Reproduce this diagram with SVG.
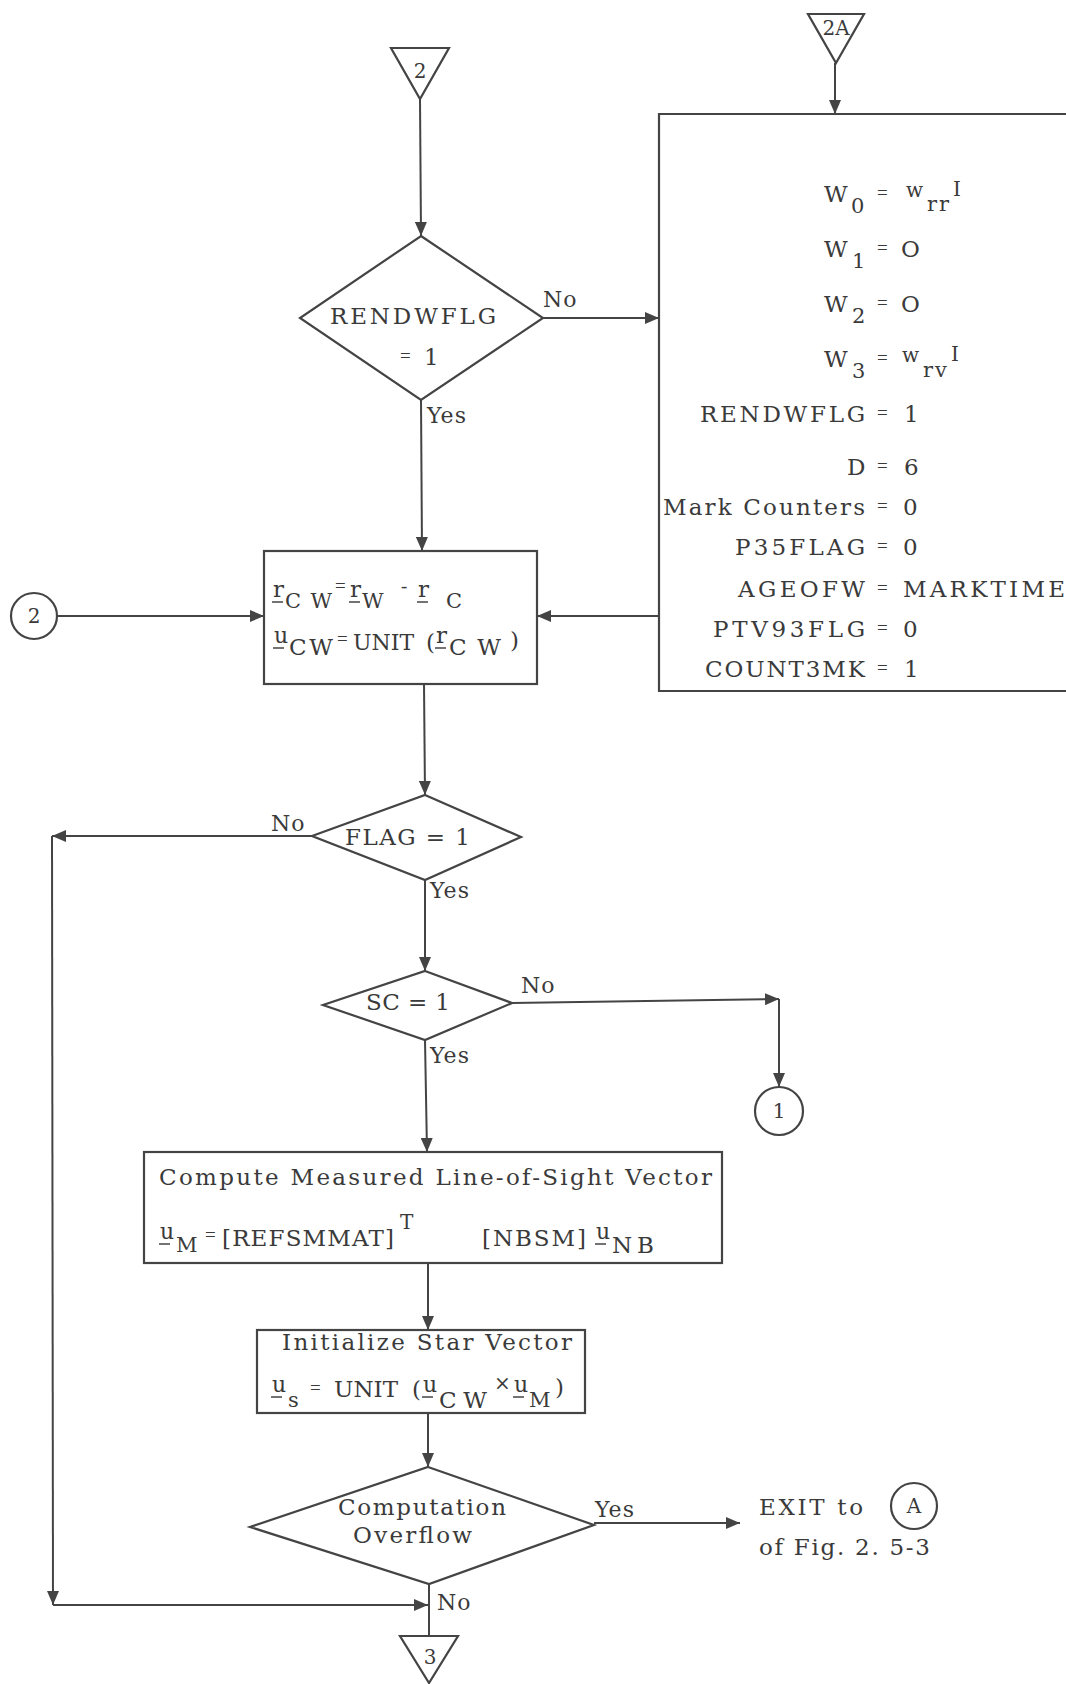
<svg xmlns="http://www.w3.org/2000/svg" width="1066" height="1684" viewBox="0 0 1066 1684">
<style>
.t{font-family:"DejaVu Serif","Liberation Serif",serif;fill:#3a3a3a;font-size:23px}
.s{font-size:21px}
.m{font-size:20px}
.e{font-family:"Liberation Serif",serif;font-size:19px}
.lb{font-size:22px;letter-spacing:1px}
.ln{stroke:#444;stroke-width:2;fill:none}
.bx{stroke:#444;stroke-width:2.2;fill:#fff}
.ul{stroke:#444;stroke-width:1.5}
</style>
<defs>
<marker id="ah" viewBox="0 0 14 12" refX="14" refY="6" markerWidth="14" markerHeight="12" orient="auto" markerUnits="userSpaceOnUse"><path d="M0,0 L14,6 L0,12 z" fill="#444"/></marker>
</defs>
<rect width="1066" height="1684" fill="#fff"/>

<g id="connectors" class="ln" marker-end="url(#ah)">
<line x1="420" y1="99" x2="421" y2="236"/>
<line x1="543" y1="318" x2="659" y2="318"/>
<line x1="835" y1="63" x2="835" y2="114"/>
<line x1="421" y1="400" x2="422" y2="551"/>
<line x1="659" y1="616" x2="537" y2="616"/>
<line x1="57" y1="616" x2="264" y2="616"/>
<line x1="424" y1="684" x2="425" y2="795"/>
<line x1="312" y1="836" x2="52" y2="836"/>
<line x1="52" y1="836" x2="53" y2="1605"/>
<line x1="53" y1="1605" x2="428" y2="1605"/>
<line x1="425" y1="880" x2="425" y2="971"/>
<line x1="512" y1="1003" x2="779" y2="999"/>
<line x1="779" y1="999" x2="779" y2="1087"/>
<line x1="425" y1="1040" x2="427" y2="1152"/>
<line x1="428" y1="1263" x2="428" y2="1330"/>
<line x1="428" y1="1413" x2="428" y2="1467"/>
<line x1="594" y1="1523" x2="740" y2="1523"/>
<line x1="429" y1="1584" x2="429" y2="1636" marker-end="none"/>
</g>

<g id="edge-labels" class="t lb">
<text x="543" y="307">No</text>
<text x="427" y="423">Yes</text>
<text x="271" y="831">No</text>
<text x="430" y="898">Yes</text>
<text x="521" y="993">No</text>
<text x="430" y="1063">Yes</text>
<text x="595" y="1517">Yes</text>
<text x="437" y="1610">No</text>
</g>

<g id="node-entry-2">
<polygon class="bx" points="391,48 449,48 420,99"/>
<text class="t m" x="420" y="78" text-anchor="middle">2</text>
</g>

<g id="node-entry-2A">
<polygon class="bx" points="808,14 864,14 836,63"/>
<text class="t m" x="836" y="35" text-anchor="middle">2A</text>
</g>

<g id="node-rendwflg">
<polygon class="bx" points="421,236 543,318 421,400 300,318"/>
<text class="t" x="330" y="324" textLength="166" lengthAdjust="spacing">RENDWFLG</text>
<text class="t e" x="400" y="362">=</text>
<text class="t" x="424" y="365">1</text>
</g>

<g id="node-init-w">
<path class="bx" d="M1068,114 H659 V691 H1068"/>
<g class="t">
<text x="824" y="202">W</text><text class="s" x="851" y="213">0</text><text class="e" x="877" y="199">=</text>
<text class="m" x="906" y="197">w</text><text class="s" x="927" y="211" letter-spacing="2">rr</text><text class="m" x="953" y="196">I</text>
<text x="824" y="257">W</text><text class="s" x="852" y="268">1</text><text class="e" x="877" y="254">=</text><text x="901" y="257">O</text>
<text x="824" y="312">W</text><text class="s" x="852" y="323">2</text><text class="e" x="877" y="309">=</text><text x="901" y="312">O</text>
<text x="824" y="367">W</text><text class="s" x="852" y="378">3</text><text class="e" x="877" y="364">=</text>
<text class="m" x="902" y="362">w</text><text class="s" x="923" y="377" letter-spacing="2">rv</text><text class="m" x="951" y="361">I</text>
<text x="700" y="422" textLength="165" lengthAdjust="spacing">RENDWFLG</text><text class="e" x="877" y="419">=</text><text x="904" y="422">1</text>
<text x="847" y="475">D</text><text class="e" x="877" y="472">=</text><text x="904" y="475">6</text>
<text x="663" y="515" textLength="202" lengthAdjust="spacing">Mark Counters</text><text class="e" x="877" y="512">=</text><text x="903" y="515">0</text>
<text x="735" y="555" textLength="130" lengthAdjust="spacing">P35FLAG</text><text class="e" x="877" y="552">=</text><text x="903" y="555">0</text>
<text x="738" y="597" textLength="127" lengthAdjust="spacing">AGEOFW</text><text class="e" x="877" y="594">=</text><text x="903" y="597" textLength="162" lengthAdjust="spacing">MARKTIME</text>
<text x="713" y="637" textLength="152" lengthAdjust="spacing">PTV93FLG</text><text class="e" x="877" y="634">=</text><text x="903" y="637">0</text>
<text x="705" y="677" textLength="160" lengthAdjust="spacing">COUNT3MK</text><text class="e" x="877" y="674">=</text><text x="904" y="677">1</text>
</g>
</g>

<g id="node-entry-circle-2">
<circle class="bx" cx="34" cy="616" r="23"/>
<text class="t m" x="34" y="623" text-anchor="middle">2</text>
</g>

<g id="node-rcw">
<rect class="bx" x="264" y="551" width="273" height="133"/>
<g class="t">
<text x="273" y="597">r</text><line class="ul" x1="272" y1="602" x2="283" y2="602"/>
<text class="s" x="285" y="608" textLength="47" lengthAdjust="spacing">C W</text>
<text class="e" x="335" y="592">=</text>
<text x="350" y="597">r</text><line class="ul" x1="349" y1="602" x2="360" y2="602"/>
<text class="s" x="362" y="608">W</text>
<text class="e" x="401" y="592">-</text>
<text x="418" y="597">r</text><line class="ul" x1="417" y1="602" x2="428" y2="602"/>
<text class="s" x="446" y="608">C</text>
<text x="274" y="643" font-size="22">u</text><line class="ul" x1="273" y1="648" x2="284" y2="648"/>
<text x="289" y="655" textLength="44" lengthAdjust="spacing">CW</text>
<text class="e" x="337" y="645">=</text>
<text x="353" y="650" font-size="22">UNIT</text>
<text x="426" y="650">(</text>
<text x="436" y="643">r</text><line class="ul" x1="435" y1="648" x2="446" y2="648"/>
<text x="449" y="655" textLength="52" lengthAdjust="spacing">CW</text>
<text x="510" y="648">)</text>
</g>
</g>

<g id="node-flag">
<polygon class="bx" points="425,795 521,837 425,880 312,836"/>
<text class="t" x="345" y="845" textLength="125" lengthAdjust="spacing">FLAG = 1</text>
</g>

<g id="node-sc">
<polygon class="bx" points="425,971 512,1003 425,1040 323,1005"/>
<text class="t" x="366" y="1010" textLength="84" lengthAdjust="spacing">SC = 1</text>
</g>

<g id="node-exit-1">
<circle class="bx" cx="779" cy="1111" r="24"/>
<text class="t m" x="779" y="1118" text-anchor="middle">1</text>
</g>

<g id="node-compute-los">
<rect class="bx" x="144" y="1152" width="578" height="111"/>
<g class="t">
<text x="159" y="1185" textLength="553" lengthAdjust="spacing">Compute Measured Line-of-Sight Vector</text>
<text x="160" y="1239" font-size="22">u</text><line class="ul" x1="159" y1="1244" x2="170" y2="1244"/>
<text class="s" x="176" y="1252">M</text>
<text class="e" x="205" y="1241">=</text>
<text x="222" y="1246" textLength="172" lengthAdjust="spacing">[REFSMMAT]</text>
<text class="m" x="400" y="1229">T</text>
<text x="482" y="1246" textLength="104" lengthAdjust="spacing">[NBSM]</text>
<text x="596" y="1239" font-size="22">u</text><line class="ul" x1="595" y1="1244" x2="606" y2="1244"/>
<text x="612" y="1253" textLength="42" lengthAdjust="spacing">NB</text>
</g>
</g>

<g id="node-init-star">
<rect class="bx" x="257" y="1330" width="328" height="83"/>
<g class="t">
<text x="282" y="1350" textLength="290" lengthAdjust="spacing">Initialize Star Vector</text>
<text x="272" y="1392" font-size="22">u</text><line class="ul" x1="271" y1="1397" x2="282" y2="1397"/>
<text class="s" x="288" y="1407">s</text>
<text class="e" x="310" y="1394">=</text>
<text x="334" y="1397" textLength="64" lengthAdjust="spacing">UNIT</text>
<text x="412" y="1397">(</text>
<text x="423" y="1392" font-size="22">u</text><line class="ul" x1="422" y1="1397" x2="433" y2="1397"/>
<text x="439" y="1408" textLength="48" lengthAdjust="spacing">CW</text>
<text class="m" x="494" y="1390">×</text>
<text x="514" y="1392" font-size="22">u</text><line class="ul" x1="513" y1="1397" x2="524" y2="1397"/>
<text class="s" x="529" y="1407">M</text>
<text x="555" y="1395">)</text>
</g>
</g>

<g id="node-overflow">
<polygon class="bx" points="428,1467 594,1525 429,1584 250,1527"/>
<text class="t" x="338" y="1515" textLength="168" lengthAdjust="spacing">Computation</text>
<text class="t" x="353" y="1543" textLength="119" lengthAdjust="spacing">Overflow</text>
</g>

<g id="node-exit-A">
<text class="t" x="759" y="1515" textLength="104" lengthAdjust="spacing">EXIT to</text>
<circle class="bx" cx="914" cy="1506" r="23"/>
<text class="t m" x="914" y="1513" text-anchor="middle">A</text>
<text class="t" x="759" y="1555" textLength="171" lengthAdjust="spacing">of Fig. 2. 5-3</text>
</g>

<g id="node-exit-3">
<polygon class="bx" points="400,1636 458,1636 429,1683"/>
<text class="t m" x="430" y="1664" text-anchor="middle">3</text>
</g>
</svg>
